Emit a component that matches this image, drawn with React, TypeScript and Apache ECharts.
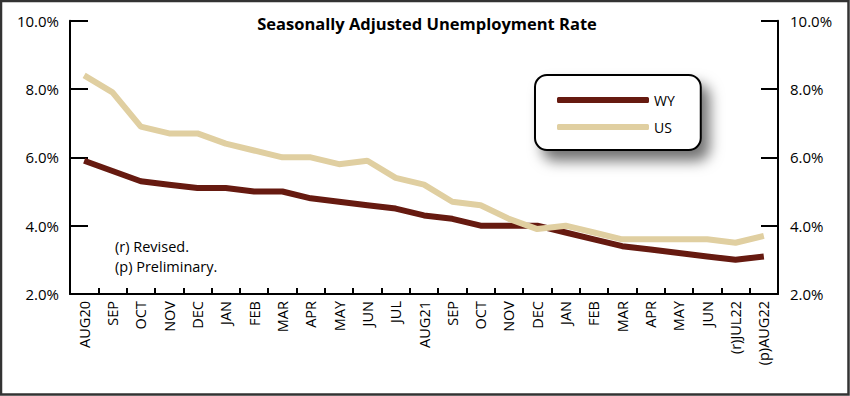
import React, { useEffect, useRef } from "react";
import * as echarts from "echarts";

const months = [
  "AUG20", "SEP", "OCT", "NOV", "DEC", "JAN", "FEB", "MAR", "APR", "MAY", "JUN", "JUL",
  "AUG21", "SEP", "OCT", "NOV", "DEC", "JAN", "FEB", "MAR", "APR", "MAY", "JUN", "(r)JUL22", "(p)AUG22",
];
const wyRates = [5.9, 5.6, 5.3, 5.2, 5.1, 5.1, 5.0, 5.0, 4.8, 4.7, 4.6, 4.5, 4.3, 4.2, 4.0, 4.0, 4.0, 3.8, 3.6, 3.4, 3.3, 3.2, 3.1, 3.0, 3.1];
const usRates = [8.4, 7.9, 6.9, 6.7, 6.7, 6.4, 6.2, 6.0, 6.0, 5.8, 5.9, 5.4, 5.2, 4.7, 4.6, 4.2, 3.9, 4.0, 3.8, 3.6, 3.6, 3.6, 3.6, 3.5, 3.7];
const yTicks = { min: 2, max: 10, interval: 2 };
const title = "Seasonally Adjusted Unemployment Rate";
const notes = ["(r) Revised.", "(p) Preliminary."];

const FONT = "'Open Sans', sans-serif";
const WY_COLOR = "#661a10";
const US_COLOR = "#e0cfa1";

export default function App() {
  const ref = useRef<HTMLDivElement>(null);
  useEffect(() => {
    document.body.style.margin = "0";
    if (!ref.current) return;
    const chart = echarts.init(ref.current, null, { renderer: "svg" });
    const yAxisBase = {
      type: "value" as const,
      min: yTicks.min,
      max: yTicks.max,
      interval: yTicks.interval,
      splitLine: { show: false },
      axisLine: { show: true, lineStyle: { color: "#000", width: 2 } },
      axisTick: { show: true, inside: true, length: 18, lineStyle: { color: "#000", width: 2 } },
      axisLabel: {
        formatter: (v: number) => v.toFixed(1) + "%",
        color: "#000",
        fontFamily: FONT,
        fontSize: 15,
      },
    };
    chart.setOption({
      animation: false,
      backgroundColor: "#fff",
      textStyle: { fontFamily: FONT },
      title: {
        text: title,
        left: 422,
        textAlign: "center",
        top: 10,
        textStyle: { fontFamily: FONT, fontWeight: "bold", fontSize: 16.5, color: "#000" },
      },
      grid: { left: 70, right: 72, top: 20.7, bottom: 102, containLabel: false },
      legend: {
        orient: "vertical",
        left: 535,
        top: 75,
        data: ["WY", "US"],
        icon: "roundRect",
        itemWidth: 92,
        itemHeight: 6,
        itemGap: 9,
        padding: [16, 26, 14, 22],
        backgroundColor: "#fff",
        borderColor: "#000",
        borderWidth: 2,
        borderRadius: 12,
        shadowBlur: 14,
        shadowColor: "rgba(0,0,0,0.55)",
        shadowOffsetX: 8,
        shadowOffsetY: 10,
        textStyle: { fontFamily: FONT, fontSize: 14, color: "#000", lineHeight: 18 },
      },
      xAxis: {
        type: "category",
        data: months,
        boundaryGap: true,
        axisLine: { lineStyle: { color: "#000", width: 2 } },
        axisTick: { show: true, inside: true, length: 6, interval: 0, lineStyle: { color: "#000", width: 2 } },
        axisLabel: { interval: 0, rotate: 90, margin: 7, color: "#000", fontFamily: FONT, fontSize: 14.5 },
      },
      yAxis: [
        { ...yAxisBase, position: "left", axisLabel: { ...yAxisBase.axisLabel, margin: 11 } },
        { ...yAxisBase, position: "right", axisTick: { ...yAxisBase.axisTick, length: 17 }, axisLabel: { ...yAxisBase.axisLabel, margin: 12 } },
      ],
      series: [
        {
          name: "WY",
          type: "line",
          data: wyRates,
          symbol: "none",
          lineStyle: { color: WY_COLOR, width: 6 },
          itemStyle: { color: WY_COLOR },
          z: 2,
        },
        {
          name: "US",
          type: "line",
          data: usRates,
          symbol: "none",
          lineStyle: { color: US_COLOR, width: 6 },
          itemStyle: { color: US_COLOR },
          z: 3,
        },
      ],
      graphic: [
        {
          type: "rect",
          shape: { x: 1, y: 1, width: 847.5, height: 393.5 },
          style: { fill: "none", stroke: "#333", lineWidth: 2.5 },
          silent: true,
        },
        {
          type: "text",
          x: 115,
          y: 246.7,
          style: { text: notes[0], fontFamily: FONT, fontSize: 14.5, fill: "#000", verticalAlign: "middle" },
        },
        {
          type: "text",
          x: 115,
          y: 266.7,
          style: { text: notes[1], fontFamily: FONT, fontSize: 14.5, fill: "#000", verticalAlign: "middle" },
        },
      ],
    });
    return () => chart.dispose();
  }, []);
  return <div ref={ref} style={{ width: 850, height: 396 }} />;
}
